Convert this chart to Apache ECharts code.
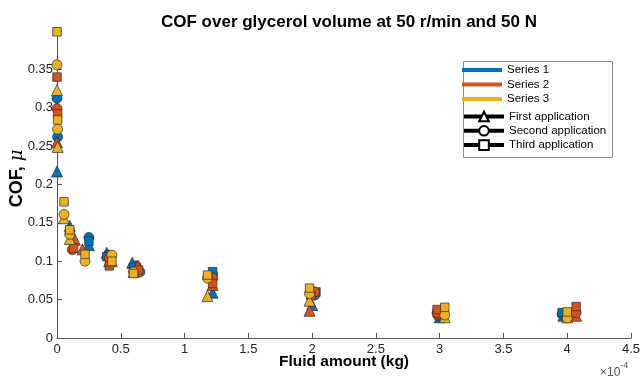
<!DOCTYPE html>
<html>
<head>
<meta charset="utf-8">
<script src="https://cdn.jsdelivr.net/npm/echarts@6/dist/echarts.min.js"></script>
<style>
  html, body { margin: 0; padding: 0; background: #fff; }
  #chart { width: 640px; height: 379px; }
</style>
</head>
<body>
<div id="chart"></div>
<script>
// Fluid amount in units of 1e-4 kg, COF values per test series and application
const xTicks = [0, 0.5, 1, 1.5, 2, 2.5, 3, 3.5, 4, 4.5];
const yTicks = [0, 0.05, 0.1, 0.15, 0.2, 0.25, 0.3, 0.35];

const s1First  = [[0, 0.217], [0.10, 0.146], [0.25, 0.121], [0.39, 0.111], [0.59, 0.098], [1.22, 0.059], [2.00, 0.043], [3.00, 0.027], [3.97, 0.029]];
const s1Second = [[0, 0.3125], [0.005, 0.262], [0.25, 0.131], [0.40, 0.108], [0.62, 0.094], [1.22, 0.083], [2.02, 0.056], [2.99, 0.029], [3.96, 0.031]];
const s1Third  = [[0.25, 0.126], [0.39, 0.106], [0.60, 0.092], [1.22, 0.0865], [2.03, 0.060], [2.98, 0.033], [3.96, 0.033]];

const s2First  = [[0, 0.255], [0.14, 0.128], [0.20, 0.1155], [0.41, 0.100], [0.635, 0.094], [1.22, 0.069], [1.98, 0.0355], [3.00, 0.032], [4.07, 0.029]];
const s2Second = [[0, 0.299], [0.12, 0.115], [0.41, 0.104], [0.65, 0.086], [1.22, 0.078], [2.02, 0.060], [2.98, 0.033], [4.07, 0.033]];
const s2Third  = [[0, 0.340], [0.005, 0.292], [0.13, 0.117], [0.41, 0.094], [0.64, 0.0885], [1.22, 0.071], [1.99, 0.055], [2.98, 0.037], [4.07, 0.041]];

const s3First  = [[0, 0.323], [0.005, 0.249], [0.055, 0.156], [0.10, 0.129], [0.43, 0.100], [0.60, 0.086], [1.18, 0.0547], [1.98, 0.0486], [3.04, 0.027], [4.00, 0.027]];
const s3Second = [[0, 0.356], [0.005, 0.272], [0.055, 0.161], [0.10, 0.135], [0.22, 0.100], [0.43, 0.108], [0.60, 0.086], [1.18, 0.078], [1.98, 0.058], [3.04, 0.030], [4.00, 0.026]];
const s3Third  = [[0, 0.399], [0.005, 0.284], [0.055, 0.1775], [0.10, 0.141], [0.22, 0.109], [0.43, 0.100], [0.60, 0.084], [1.18, 0.082], [1.98, 0.065], [3.04, 0.040], [4.00, 0.034]];

const seriesNames = ['Series 1', 'Series 2', 'Series 3'];
const applicationNames = ['First application', 'Second application', 'Third application'];
const seriesColors = ['#0072BD', '#D95319', '#EDB120'];
const applicationSymbols = ['triangle', 'circle', 'rect'];
const symbolSizes = [11, 10, 8.5];

const groups = [
  [s1First, s1Second, s1Third],
  [s2First, s2Second, s2Third],
  [s3First, s3Second, s3Third]
];

const FONT = 'Liberation Sans, Arial, Helvetica, sans-serif';
const AXIS_COLOR = '#555555';
const TEXT_COLOR = '#262626';

const chart = echarts.init(document.getElementById('chart'), null, { renderer: 'canvas' });

const series = [];
// legend-only entries for the test series (coloured lines)
seriesNames.forEach((name, i) => {
  series.push({ name, type: 'line', data: [], color: seriesColors[i], symbol: 'none',
    lineStyle: { color: seriesColors[i], width: 4 } });
});
// legend-only entries for the applications (black line with open marker)
applicationNames.forEach((name, j) => {
  series.push({ name, type: 'line', data: [], color: '#000', symbol: applicationSymbols[j],
    lineStyle: { color: '#000', width: 4 },
    itemStyle: { color: '#fff', borderColor: '#000', borderWidth: 2 } });
});
// measured points
groups.forEach((apps, i) => {
  apps.forEach((pts, j) => {
    series.push({
      name: seriesNames[i] + ' / ' + applicationNames[j],
      type: 'scatter',
      data: pts,
      symbol: applicationSymbols[j],
      symbolSize: symbolSizes[j],
      itemStyle: { color: seriesColors[i], borderColor: '#2b2b2b', borderWidth: 0.7, opacity: 1 },
      emphasis: { disabled: true },
      animation: false
    });
  });
});

const lineIcon = 'path://M0,0h40v4h-40z';

chart.setOption({
  animation: false,
  backgroundColor: '#fff',
  title: {
    text: 'COF over glycerol volume at 50 r/min and 50 N',
    left: 344, top: 9, textAlign: 'center',
    textStyle: { fontFamily: FONT, fontSize: 17, fontWeight: 'bold', color: '#000' }
  },
  grid: { left: 57, right: 9, top: 31, bottom: 41, containLabel: false, outerBoundsMode: 'none' },
  legend: [
    {
      orient: 'vertical', left: 462, top: 64, padding: 0,
      itemWidth: 40, itemHeight: 12, itemGap: 2.5, itemTextGap: 5,
      symbolKeepAspect: true, selectedMode: false,
      textStyle: { fontFamily: FONT, fontSize: 11.5, color: '#000' },
      data: seriesNames.map((name, i) => ({ name, icon: lineIcon, itemStyle: { color: seriesColors[i], borderWidth: 0 } }))
    },
    {
      orient: 'vertical', left: 462, top: 110.5, padding: 0,
      itemWidth: 40, itemHeight: 12, itemGap: 2.3, itemTextGap: 5, selectedMode: false,
      textStyle: { fontFamily: FONT, fontSize: 11.5, color: '#000' },
      data: applicationNames.map((name) => ({
        name,
        itemStyle: { color: '#fff', borderColor: '#000', borderWidth: 2 },
        lineStyle: { color: '#000', width: 4 }
      }))
    }
  ],
  graphic: [
    { type: 'rect', left: 461, top: 59, shape: { width: 149, height: 96 },
      style: { fill: 'none', stroke: '#8c8c8c', lineWidth: 1 }, z: 1 },
    { type: 'text', left: 600, top: 361,
      style: { text: '{a|\u00d710}{b|-4}', fill: '#555',
        rich: { a: { fontFamily: FONT, fontSize: 12, fill: '#555', padding: [6, 0, 0, 0] },
                b: { fontFamily: FONT, fontSize: 9, fill: '#555', verticalAlign: 'top' } } } }
  ],
  xAxis: {
    type: 'value', min: 0, max: 4.5, interval: 0.5,
    name: 'Fluid amount (kg)', nameLocation: 'middle', nameGap: 16, nameMoveOverlap: false,
    nameTextStyle: { fontFamily: FONT, fontSize: 15.5, fontWeight: 'bold', color: '#000', verticalAlign: 'top' },
    axisLine: { show: true, onZero: false, lineStyle: { color: AXIS_COLOR, width: 1 } },
    axisTick: { show: true, inside: true, length: 5, lineStyle: { color: AXIS_COLOR } },
    axisLabel: { fontFamily: FONT, fontSize: 13, color: TEXT_COLOR, margin: 5,
      formatter: (v) => (xTicks.some(t => Math.abs(t - v) < 1e-9) ? String(v) : '') },
    splitLine: { show: false }
  },
  yAxis: {
    type: 'value', min: 0, max: 0.4, interval: 0.05,
    name: '{a|COF, }{b|\u03bc}', nameLocation: 'middle', nameGap: 31, nameRotate: 90, nameMoveOverlap: false,
    nameTextStyle: { fontFamily: FONT, fontSize: 18, color: '#000', padding: [0, 0, 0, 12],
      rich: { a: { fontFamily: FONT, fontSize: 18, fontWeight: 'bold', color: '#000' },
              b: { fontFamily: 'DejaVu Serif, serif', fontSize: 18, fontStyle: 'italic', color: '#000' } } },
    axisLine: { show: true, onZero: false, lineStyle: { color: AXIS_COLOR, width: 1 } },
    axisTick: { show: true, inside: true, length: 5, lineStyle: { color: AXIS_COLOR } },
    axisLabel: { fontFamily: FONT, fontSize: 13, color: TEXT_COLOR, margin: 4,
      formatter: (v) => (yTicks.some(t => Math.abs(t - v) < 1e-9) ? String(+v.toFixed(2)) : '') },
    splitLine: { show: false }
  },
  series
});
</script>
</body>
</html>
